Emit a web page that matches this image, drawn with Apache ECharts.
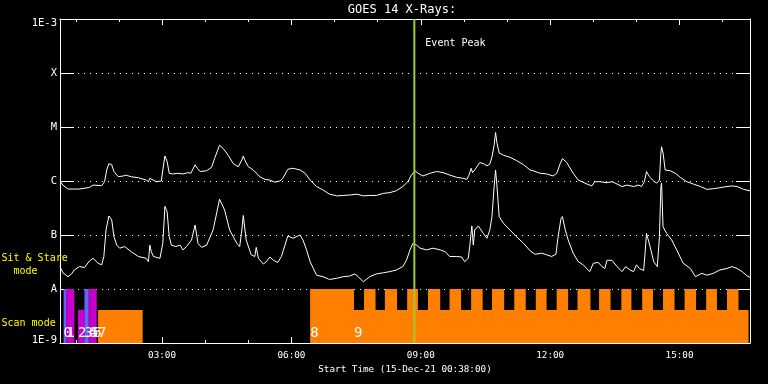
<!DOCTYPE html>
<html><head><meta charset="utf-8">
<script src="https://cdn.jsdelivr.net/npm/echarts@6/dist/echarts.min.js"></script>
<style>html,body{margin:0;padding:0;background:#000}#c{width:768px;height:384px}</style>
</head><body><div id="c"></div>
<script>
// ---------------- DATA ----------------
const chartTitle = 'GOES 14 X-Rays:';
const xAxisTitle = 'Start Time (15-Dec-21 00:38:00)';
const startTime = '00:38';
const endTime = '16:38';
const xMajorTicks = ['03:00', '06:00', '09:00', '12:00', '15:00'];
const xMinorTicks = ['01:00','02:00','03:00','04:00','05:00','06:00','07:00','08:00','09:00','10:00','11:00','12:00','13:00','14:00','15:00','16:00'];
const yTickValues = [1e-9, 1e-8, 1e-7, 1e-6, 1e-5, 1e-4, 1e-3];
const yTickLabels = ['1E-9', 'A', 'B', 'C', 'M', 'X', '1E-3'];
const eventPeak = '08:51';
const eventLabel = 'Event Peak';
const sideLabels = ['Sit & Stare', '  mode', 'Scan mode'];

// long channel (1-8 A), [time, flux W/m^2]
const longChannel = [
['00:38',1.0e-6],['00:42',8.4e-7],['00:49',7.1e-7],['01:05',7.1e-7],['01:19',7.6e-7],['01:24',8.4e-7],
['01:36',8.2e-7],['01:40',9.7e-7],['01:43',1.6e-6],['01:46',2.1e-6],['01:50',2.0e-6],['01:53',1.5e-6],
['01:59',1.2e-6],['02:06',1.24e-6],['02:10',1.28e-6],['02:17',1.2e-6],['02:27',1.15e-6],['02:38',1.04e-6],
['02:41',9.7e-7],['02:43',1.12e-6],['02:45',1.04e-6],['02:52',9.7e-7],['02:59',1.0e-6],['03:01',1.6e-6],
['03:04',2.9e-6],['03:07',2.3e-6],['03:10',1.39e-6],['03:15',1.35e-6],['03:22',1.39e-6],['03:29',1.35e-6],
['03:36',1.43e-6],['03:40',1.39e-6],['03:46',2.0e-6],['03:49',1.72e-6],['03:53',1.5e-6],['04:02',1.55e-6],
['04:09',1.8e-6],['04:13',2.6e-6],['04:20',4.6e-6],['04:25',4.0e-6],['04:32',3.0e-6],['04:39',2.1e-6],
['04:46',1.84e-6],['04:51',2.45e-6],['04:53',2.9e-6],['04:55',2.45e-6],['05:00',1.84e-6],['05:07',1.6e-6],
['05:16',1.2e-6],['05:23',1.07e-6],['05:30',1.04e-6],['05:37',9.5e-7],['05:44',1.0e-6],['05:48',1.12e-6],
['05:55',1.65e-6],['06:02',1.72e-6],['06:12',1.6e-6],['06:14',1.65e-6],['06:19',1.39e-6],['06:26',1.04e-6],
['06:35',7.9e-7],['06:44',6.8e-7],['06:53',5.7e-7],['07:03',5.3e-7],['07:12',5.4e-7],['07:21',5.5e-7],
['07:31',5.7e-7],['07:40',5.3e-7],['07:49',5.4e-7],['07:58',5.4e-7],['08:08',5.9e-7],['08:17',6.1e-7],
['08:26',6.6e-7],['08:35',7.9e-7],['08:42',9.7e-7],['08:47',1.29e-6],['08:52',1.55e-6],['08:56',1.39e-6],
['09:03',1.24e-6],['09:13',1.39e-6],['09:22',1.5e-6],['09:31',1.43e-6],['09:40',1.29e-6],['09:50',1.17e-6],
['09:59',1.12e-6],['10:04',1.07e-6],['10:07',1.29e-6],['10:10',1.72e-6],['10:12',1.43e-6],['10:15',1.6e-6],
['10:22',2.2e-6],['10:27',2.1e-6],['10:32',1.9e-6],['10:36',2.06e-6],['10:39',2.8e-6],['10:42',4.6e-6],
['10:44',7.9e-6],['10:46',5.0e-6],['10:49',3.3e-6],['10:55',3.0e-6],['11:04',2.75e-6],['11:13',2.4e-6],
['11:23',2.0e-6],['11:32',1.6e-6],['11:36',1.55e-6],['11:46',1.39e-6],['11:55',1.35e-6],['12:04',1.24e-6],
['12:09',1.39e-6],['12:14',2.1e-6],['12:17',2.6e-6],['12:23',2.2e-6],['12:32',1.39e-6],['12:39',1.04e-6],
['12:51',8.8e-7],['12:58',8.1e-7],['13:02',9.7e-7],['13:09',9.7e-7],['13:19',9.3e-7],['13:26',9.7e-7],
['13:33',8.8e-7],['13:40',7.9e-7],['13:47',8.4e-7],['13:56',7.9e-7],['14:03',8.4e-7],['14:07',7.9e-7],
['14:11',9.7e-7],['14:14',1.5e-6],['14:18',1.2e-6],['14:24',1.0e-6],['14:28',9.1e-7],['14:32',1.04e-6],
['14:34',3.3e-6],['14:35',4.3e-6],['14:37',3.3e-6],['14:40',1.6e-6],['14:47',1.55e-6],['14:54',1.39e-6],
['15:01',1.17e-6],['15:10',9.7e-7],['15:19',8.8e-7],['15:29',7.9e-7],['15:38',7.0e-7],['15:47',7.2e-7],
['15:56',7.5e-7],['16:06',7.9e-7],['16:13',8.1e-7],['16:20',7.9e-7],['16:29',7.0e-7],['16:38',6.6e-7]
];

// short channel (0.5-4 A), [time, flux W/m^2]
const shortChannel = [
['00:38',2.6e-8],['00:42',2.0e-8],['00:49',1.69e-8],['00:54',1.9e-8],['00:58',2.25e-8],['01:05',2.6e-8],
['01:12',2.5e-8],['01:19',3.3e-8],['01:24',3.7e-8],['01:31',3.0e-8],['01:36',2.8e-8],['01:39',4.0e-8],
['01:42',1.24e-7],['01:46',2.25e-7],['01:50',1.9e-7],['01:53',9.3e-8],['01:57',6.5e-8],['02:01',5.7e-8],
['02:08',6.1e-8],['02:17',4.9e-8],['02:27',4.0e-8],['02:38',3.7e-8],['02:41',3.2e-8],['02:43',6.5e-8],
['02:45',4.9e-8],['02:48',4.0e-8],['02:57',3.7e-8],['03:01',7.0e-8],['03:04',3.4e-7],['03:07',2.7e-7],
['03:10',9.3e-8],['03:13',6.5e-8],['03:19',6.1e-8],['03:25',6.5e-8],['03:29',5.3e-8],['03:34',6.1e-8],
['03:41',8.1e-8],['03:46',1.53e-7],['03:50',7.0e-8],['03:55',5.9e-8],['04:02',6.5e-8],['04:11',1.24e-7],
['04:20',4.6e-7],['04:27',2.9e-7],['04:34',1.24e-7],['04:44',7.0e-8],['04:48',6.1e-8],['04:51',1.24e-7],
['04:53',2.3e-7],['04:57',8.1e-8],['05:04',4.3e-8],['05:09',4.0e-8],['05:11',5.9e-8],['05:14',3.7e-8],
['05:21',2.9e-8],['05:25',3.2e-8],['05:30',3.9e-8],['05:35',3.4e-8],['05:41',3.1e-8],['05:46',4.0e-8],
['05:55',9.6e-8],['06:02',8.7e-8],['06:12',1.0e-7],['06:16',8.1e-8],['06:21',5.3e-8],['06:26',3.2e-8],
['06:35',1.8e-8],['06:44',1.69e-8],['06:53',1.5e-8],['07:03',1.58e-8],['07:12',1.69e-8],['07:21',1.74e-8],
['07:28',1.9e-8],['07:33',1.69e-8],['07:40',1.36e-8],['07:49',1.69e-8],['07:58',1.9e-8],['08:08',2.0e-8],
['08:17',2.1e-8],['08:26',2.25e-8],['08:35',2.6e-8],['08:40',3.4e-8],['08:45',5.3e-8],['08:49',7.0e-8],
['08:54',6.5e-8],['08:59',5.7e-8],['09:08',5.3e-8],['09:17',5.7e-8],['09:27',5.3e-8],['09:34',4.9e-8],
['09:40',4.0e-8],['09:50',4.0e-8],['09:57',3.9e-8],['10:01',3.2e-8],['10:06',3.7e-8],['10:08',6.1e-8],
['10:11',1.47e-7],['10:13',6.5e-8],['10:15',1.24e-7],['10:20',1.47e-7],['10:27',1.07e-7],['10:32',8.7e-8],
['10:36',1.24e-7],['10:39',2.2e-7],['10:42',7.9e-7],['10:44',1.6e-6],['10:46',7.9e-7],['10:49',2.2e-7],
['10:55',1.65e-7],['11:04',1.24e-7],['11:13',9.3e-8],['11:23',7.0e-8],['11:32',5.1e-8],['11:39',4.4e-8],
['11:48',4.6e-8],['11:55',4.3e-8],['12:02',4.0e-8],['12:08',4.4e-8],['12:11',9.3e-8],['12:15',2.0e-7],
['12:17',2.2e-7],['12:21',1.24e-7],['12:25',8.1e-8],['12:32',4.6e-8],['12:39',3.2e-8],['12:46',2.8e-8],
['12:55',2.1e-8],['13:00',3.0e-8],['13:07',3.1e-8],['13:12',2.6e-8],['13:16',2.4e-8],['13:19',3.4e-8],
['13:26',3.4e-8],['13:33',2.6e-8],['13:40',2.1e-8],['13:45',2.6e-8],['13:51',2.25e-8],['13:56',2.1e-8],
['14:00',2.8e-8],['14:04',2.4e-8],['14:10',2.2e-8],['14:12',4.6e-8],['14:14',1.07e-7],['14:19',6.1e-8],
['14:24',3.2e-8],['14:29',2.6e-8],['14:32',9.3e-8],['14:34',7.9e-7],['14:35',9.1e-7],['14:37',1.42e-7],
['14:42',1.07e-7],['14:49',8.1e-8],['14:56',5.3e-8],['15:05',3.0e-8],['15:15',2.4e-8],['15:22',1.69e-8],
['15:31',1.95e-8],['15:38',1.8e-8],['15:47',1.95e-8],['15:56',2.25e-8],['16:06',2.4e-8],['16:13',2.6e-8],
['16:20',2.4e-8],['16:27',2.1e-8],['16:34',1.74e-8],['16:38',1.65e-8]
];

// observing scans: [start, end, top level (flux units of the plot), mode]
const scans = [
['00:43','00:47',1e-8,'blue'],['00:47','00:58',1e-8,'magenta'],['01:03','01:12',4.1e-9,'magenta'],
['01:12','01:18',1e-8,'blue'],['01:18','01:20',1e-8,'magenta'],['01:20','01:24',1e-8,'magenta'],
['01:24','01:29',1e-8,'magenta'],['01:31','02:33',4.1e-9,'orange'],['06:26','07:27',1e-8,'orange'],
['07:27','16:36',4.1e-9,'orange'],
['07:41','07:57',1e-8,'orange'],['08:10','08:27',1e-8,'orange'],['08:41','08:56',1e-8,'orange'],
['09:10','09:27',1e-8,'orange'],['09:40','09:56',1e-8,'orange'],['10:10','10:26',1e-8,'orange'],
['10:39','10:56',1e-8,'orange'],['11:10','11:26',1e-8,'orange'],['11:40','11:55',1e-8,'orange'],
['12:09','12:25',1e-8,'orange'],['12:38','12:56',1e-8,'orange'],['13:08','13:24',1e-8,'orange'],
['13:39','13:53',1e-8,'orange'],['14:08','14:23',1e-8,'orange'],['14:37','14:53',1e-8,'orange'],
['15:07','15:23',1e-8,'orange'],['15:37','15:52',1e-8,'orange'],['16:06','16:22',1e-8,'orange']
];
// scan numbers: [label, start time]
const scanLabels = [
['0','00:43'],['1','00:47'],['2','01:03'],['3','01:12'],['4','01:18'],['5','01:20'],
['6','01:24'],['7','01:31'],['8','06:26'],['9','07:27']
];

// ---------------- CHART ----------------
const modeColors = { blue: '#6464ff', magenta: '#cc00cc', orange: '#ff8000' };
const MONO = '"DejaVu Sans Mono", "Liberation Mono", monospace';
const hm = s => { const p = s.split(':'); return +p[0] + (+p[1]) / 60; };
const xMin = hm(startTime), xMax = hm(endTime);
const yMin = yTickValues[0], yMax = yTickValues[yTickValues.length - 1];

const chart = echarts.init(document.getElementById('c'), null, { renderer: 'canvas' });

const baseX = {
  type: 'value', min: xMin, max: xMax, gridIndex: 0,
  splitLine: { show: false }
};
const xAxes = [
  Object.assign({}, baseX, {
    position: 'bottom',
    axisLine: { show: true, lineStyle: { color: '#fff', width: 1 } },
    axisTick: { show: true, inside: true, length: 6, customValues: xMajorTicks.map(hm), lineStyle: { color: '#fff' } },
    axisLabel: {
      show: true, customValues: xMajorTicks.map(hm), color: '#fff', fontFamily: MONO, fontSize: 9.3, margin: 8,
      formatter: v => { const k = xMajorTicks.find(t => Math.abs(hm(t) - v) < 1e-6); return k || ''; }
    },
    name: xAxisTitle, nameLocation: 'middle', nameGap: 20,
    nameTextStyle: { color: '#fff', fontFamily: MONO, fontSize: 9.3 }
  }),
  Object.assign({}, baseX, {
    position: 'bottom',
    axisLine: { show: false },
    axisTick: { show: true, inside: true, length: 3, customValues: xMinorTicks.map(hm), lineStyle: { color: '#fff' } },
    axisLabel: { show: false }
  }),
  Object.assign({}, baseX, {
    position: 'top',
    axisLine: { show: true, lineStyle: { color: '#fff', width: 1 } },
    axisTick: { show: true, inside: true, length: 6, customValues: xMajorTicks.map(hm), lineStyle: { color: '#fff' } },
    axisLabel: { show: false }
  }),
  Object.assign({}, baseX, {
    position: 'top',
    axisLine: { show: false },
    axisTick: { show: true, inside: true, length: 3, customValues: xMinorTicks.map(hm), lineStyle: { color: '#fff' } },
    axisLabel: { show: false }
  })
];

const yLabel = v => {
  const k = Math.round(Math.log10(v)) + 9;
  const t = yTickLabels[k] || '';
  if (k === 0) return '{lo|' + t + '}';
  if (k === yTickLabels.length - 1) return '{hi|' + t + '}';
  return t;
};

const yAxes = [
  {
    type: 'log', logBase: 10, min: yMin, max: yMax, interval: 1, position: 'left',
    axisLine: { show: true, lineStyle: { color: '#fff', width: 1 } },
    axisTick: { show: true, inside: true, length: 14, lineStyle: { color: '#fff' } },
    axisLabel: {
      show: true, color: '#fff', fontFamily: MONO, fontSize: 10.5, margin: 3, formatter: yLabel,
      rich: {
        lo: { color: '#fff', fontFamily: MONO, fontSize: 10.5, padding: [0, 0, 6, 0] },
        hi: { color: '#fff', fontFamily: MONO, fontSize: 10.5, padding: [8, 0, 0, 0] }
      }
    },
    splitLine: { show: true, lineStyle: { color: '#fff', width: 1, type: [1, 5] } },
    minorTick: { show: false }
  },
  {
    type: 'log', logBase: 10, min: yMin, max: yMax, interval: 1, position: 'right',
    axisLine: { show: true, lineStyle: { color: '#fff', width: 1 } },
    axisTick: { show: true, inside: true, length: 14, lineStyle: { color: '#fff' } },
    axisLabel: { show: false },
    splitLine: { show: false }
  }
];

const scanData = scans.map(s => [hm(s[0]), hm(s[1]), s[2]]);
const scanLabelData = scanLabels.map(l => [hm(l[1]), yMin]);

const option = {
  backgroundColor: '#000',
  animation: false,
  grid: { left: 60, top: 19, width: 690, height: 324, containLabel: false },
  xAxis: xAxes,
  yAxis: yAxes,
  graphic: [
    { type: 'text', x: 402, y: 10, z: 100, style: { text: chartTitle, fill: '#fff', font: '12px ' + MONO, align: 'center', verticalAlign: 'middle' } },
    { type: 'text', x: 1.5, y: 258.5, z: 100, style: { text: sideLabels[0], fill: '#ffff00', font: '10px ' + MONO, align: 'left', verticalAlign: 'middle' } },
    { type: 'text', x: 1.5, y: 271, z: 100, style: { text: sideLabels[1], fill: '#ffff00', font: '10px ' + MONO, align: 'left', verticalAlign: 'middle' } },
    { type: 'text', x: 1.5, y: 323, z: 100, style: { text: sideLabels[2], fill: '#ffff00', font: '10px ' + MONO, align: 'left', verticalAlign: 'middle' } }
  ],
  series: [
    {
      type: 'custom', name: 'scans', xAxisIndex: 0, yAxisIndex: 0,
      encode: { x: [0, 1], y: 2 },
      data: scanData,
      renderItem: (params, api) => {
        const i = params.dataIndex;
        const a = api.coord([api.value(0), api.value(2)]);
        const b = api.coord([api.value(1), yMin]);
        return {
          type: 'rect',
          shape: { x: a[0], y: a[1], width: b[0] - a[0], height: b[1] - a[1] },
          style: { fill: modeColors[scans[i][3]] }
        };
      },
      silent: true
    },
    {
      type: 'custom', name: 'scanLabels', xAxisIndex: 0, yAxisIndex: 0,
      encode: { x: 0, y: 1 },
      data: scanLabelData,
      renderItem: (params, api) => {
        const p = api.coord([api.value(0), api.value(1)]);
        return {
          type: 'text', x: p[0], y: p[1] - 10,
          style: { text: scanLabels[params.dataIndex][0], fill: '#fff', font: '14px ' + MONO, align: 'left', verticalAlign: 'middle' }
        };
      },
      silent: true, z: 5
    },
    {
      type: 'line', name: 'long', xAxisIndex: 0, yAxisIndex: 0,
      data: longChannel.map(d => [hm(d[0]), d[1]]),
      showSymbol: false, symbol: 'none',
      lineStyle: { color: '#fff', width: 1 }, silent: true, z: 3
    },
    {
      type: 'line', name: 'short', xAxisIndex: 0, yAxisIndex: 0,
      data: shortChannel.map(d => [hm(d[0]), d[1]]),
      showSymbol: false, symbol: 'none',
      lineStyle: { color: '#fff', width: 1 }, silent: true, z: 3
    },
    {
      type: 'custom', name: 'event', xAxisIndex: 0, yAxisIndex: 0,
      encode: { x: 0, y: 1 },
      data: [[hm(eventPeak), yMin]],
      renderItem: (params, api) => {
        const t = api.value(0);
        const p1 = api.coord([t, yMin]);
        const p2 = api.coord([t, yMax]);
        return {
          type: 'group',
          children: [
            { type: 'line', shape: { x1: p1[0], y1: p1[1], x2: p2[0], y2: p2[1] }, style: { stroke: '#9acd32', lineWidth: 2 } },
            { type: 'text', x: p2[0] + 11, y: p2[1] + 24, style: { text: eventLabel, fill: '#fff', font: '10px ' + MONO, align: 'left', verticalAlign: 'middle' } }
          ]
        };
      },
      silent: true, z: 6
    }
  ]
};
chart.setOption(option);
</script>
</body></html>
